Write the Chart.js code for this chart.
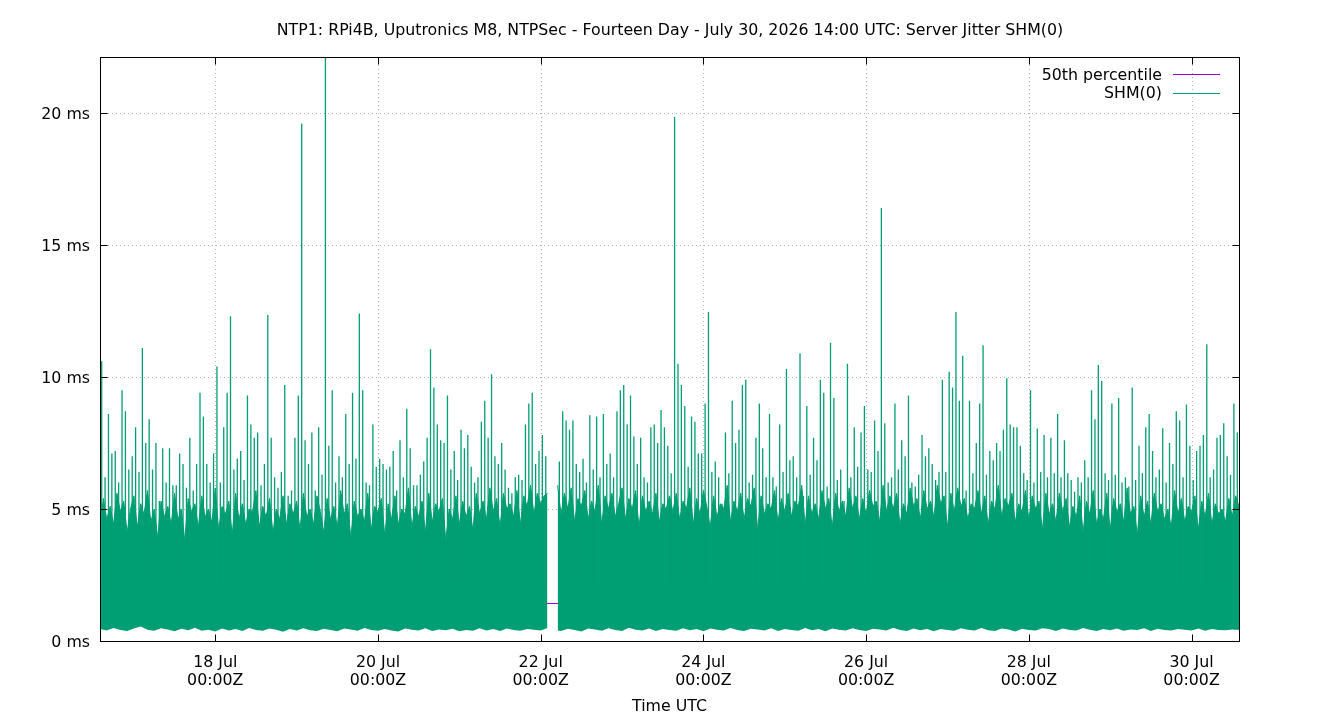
<!DOCTYPE html>
<html>
<head>
<meta charset="utf-8">
<title>Server Jitter SHM(0)</title>
<script src="https://cdn.jsdelivr.net/npm/chart.js@4.4.1/dist/chart.umd.min.js"></script>
<style>
  html, body { margin: 0; padding: 0; background: #fff; }
  canvas { display: block; }
</style>
</head>
<body>
<canvas id="jitterChart" width="1340" height="720"></canvas>
<script>
// hours are counted from 16 Jul 14:00 UTC (fourteen days = 336 h)
const chartTitle = 'NTP1: RPi4B, Uputronics M8, NTPSec - Fourteen Day - July 30, 2026 14:00 UTC: Server Jitter SHM(0)';
const xAxisTitle = 'Time UTC';
const seriesLabels = ['50th percentile', 'SHM(0)'];
const seriesColors = ['#9400d3', '#009e73'];
const percentile50 = 1.42;

const dayTickHours = [34, 82, 130, 178, 226, 274, 322];
const dayTickLabels = ['18 Jul', '20 Jul', '22 Jul', '24 Jul', '26 Jul', '28 Jul', '30 Jul'];
const dayTickTime = '00:00Z';
const yTickValues = [0, 5, 10, 15, 20];

// tallest jitter sample in each hour (ms), null = no data
const spikeValues = [
  10.6, 6.2, 8.6, 7.1, 7.2, 6.0, 9.5, 8.7, 6.5, 7.0,
  8.1, 6.4, 11.1, 7.5, 8.4, 6.5, 7.5, 5.3, 7.3, 6.0,
  7.3, 5.9, 5.9, 7.1, 6.7, 5.8, 7.7, 5.7, 6.7, 9.4,
  8.5, 6.7, 6.0, 7.1, 10.4, 6.0, 8.1, 9.4, 12.3, 6.5,
  6.9, 7.2, 6.1, 9.3, 8.2, 7.7, 7.9, 5.9, 6.7, 12.35,
  7.7, 6.2, 5.8, 6.4, 9.7, 5.5, 5.7, 7.7, 9.3, 19.6,
  7.6, 6.7, 7.9, 5.7, 8.1, 6.3, 22.5, 7.4, 9.5, 6.0,
  7.0, 6.2, 8.6, 6.7, 9.4, 6.9, 12.4, 9.5, 6.0, 5.9,
  8.2, 6.6, 6.9, 6.7, 6.5, 6.6, 7.2, 5.7, 7.6, 6.2,
  8.8, 7.3, 5.9, 5.9, 6.3, 6.8, 7.7, 11.05, 9.6, 8.2,
  7.6, 7.5, 9.3, 6.5, 7.2, 6.1, 8.0, 7.3, 7.8, 6.6,
  6.0, 6.2, 8.3, 9.1, 7.7, 10.1, 7.0, 6.7, 7.5, 6.5,
  5.8, 5.6, 6.2, 6.3, 6.1, 8.2, 9.0, 9.4, 6.7, 7.2,
  7.8, 7.0, null, null, null, 6.8, 8.7, 8.35, 8.0, 8.35,
  6.7, 6.4, 6.9, 6.0, 8.55, 6.5, 8.5, 6.2, 8.6, 6.7,
  7.1, 6.2, 8.7, 9.5, 9.7, 8.2, 9.3, 7.75, 6.7, 7.7,
  6.2, 6.0, 8.1, 8.2, 7.5, 8.75, 8.1, 7.4, 6.35, 19.85,
  10.5, 9.7, 8.9, 6.6, 8.5, 8.3, 7.1, 7.1, 9.0, 12.46,
  6.4, 6.8, 6.2, 5.2, 7.9, 6.35, 9.1, 7.5, 8.0, 9.7,
  9.9, 6.0, 6.3, 7.7, 9.0, 7.3, 6.2, 8.6, 6.2, 5.85,
  8.2, 6.4, 10.3, 6.85, 7.0, 6.2, 10.9, 5.5, 8.9, 6.3,
  7.7, 6.85, 9.9, 9.4, 5.85, 11.3, 9.2, 6.1, 6.5, 5.3,
  10.5, 6.2, 8.1, 6.6, 7.9, 8.9, 6.5, 6.4, 8.35, 7.2,
  16.4, 8.25, 6.0, 6.2, 9.0, 6.5, 7.6, 7.0, 9.3, 6.0,
  5.85, 6.3, 7.8, 7.0, 7.3, 6.7, 6.1, 6.4, 9.9, 6.4,
  10.2, 9.6, 12.46, 9.1, 10.8, 5.7, 9.1, 6.35, 7.5, 9.0,
  11.2, 6.3, 7.2, 6.85, 7.5, 7.2, 8.0, 9.95, 8.2, 8.1,
  8.1, 7.4, 6.35, 6.1, 9.5, 6.0, 8.05, 6.4, 7.8, 6.2,
  7.7, 6.35, 8.6, 6.2, 7.6, 6.35, 6.1, 5.65, 6.2, 6.0,
  6.85, 6.2, 9.5, 8.4, 10.45, 9.86, 6.35, 6.1, 9.0, 6.3,
  9.2, 6.0, 6.2, 5.85, 9.6, 6.1, 7.4, 6.35, 8.1, 8.6,
  7.2, 6.2, 6.5, 8.06, 6.0, 7.5, 6.7, 8.7, 8.35, 6.2,
  8.96, 7.4, 6.1, 7.2, 7.4, 7.8, 11.24, 6.2, 6.5, 7.7,
  7.8, 8.25, 7.0, 6.3, 9.0, 7.9
];

// top of the dense band of samples, on the hour (ms)
const bandTop = [
  4.2, 5.4, 4.6, 5.1, 4.4, 5.6, 4.9, 5.3, 4.1, 5.0,
  5.5, 4.3, 5.2, 4.8, 5.7, 4.5, 5.0, 3.9, 5.3, 4.7,
  5.1, 4.4, 5.6, 4.6, 5.0, 3.8, 5.4, 4.9, 5.2, 4.3,
  5.5, 4.7, 5.0, 4.5, 5.8, 4.2, 5.1, 4.8, 5.3, 4.0,
  5.6, 4.6, 5.2, 4.4, 5.0, 4.9, 5.7, 4.3, 5.1, 4.7,
  5.4, 4.1, 5.0, 4.6, 5.5, 4.4, 5.2,
  4.8, 5.3, 4.2, 5.6, 4.7, 5.0, 4.4, 5.5, 4.9, 4.1,
  5.4, 4.6, 5.1, 4.3, 5.7, 4.8, 5.2, 3.9, 5.3, 4.7,
  5.0, 4.5, 5.6, 4.2, 5.1, 4.9, 5.4, 4.0, 5.2, 4.6,
  5.5, 4.4, 5.0, 4.8, 5.8, 4.3, 5.1, 4.7, 5.3, 4.1,
  5.6, 4.5, 5.2, 4.9, 5.4, 3.8, 5.0, 4.6, 5.5, 4.4,
  5.3, 4.7, 5.1, 4.2, 5.6, 4.8,
  5.3, 4.6, 5.8, 4.9, 5.4, 4.3, 5.6, 5.0, 5.2, 4.7,
  5.7, 4.4, 5.5, 5.1, 5.9, 4.8, 5.6, 5.2, 5.5, 5.6,
  null, null,
  5.9, 4.8, 5.6, 5.0, 5.8, 4.5, 5.4, 5.1, 5.7, 4.6,
  5.3, 4.9, 5.9, 4.4, 5.5, 5.0, 5.6, 4.7, 5.2, 5.8,
  4.6, 5.4, 5.0, 5.7, 4.3, 5.5, 4.9, 5.3, 4.8, 5.6,
  4.5, 5.2, 5.0, 5.5,
  4.9, 5.6, 4.6, 5.3, 5.0, 5.8, 4.4, 5.4, 4.8, 5.7,
  5.1, 4.3, 5.5, 4.7, 5.2, 5.0, 5.9, 4.5, 5.3, 4.9,
  5.6, 4.6, 5.4, 5.1, 5.8, 4.2, 5.5, 4.8, 5.2, 5.0,
  5.7, 4.5, 5.4, 4.9, 5.6, 4.7, 5.3, 5.1, 5.9, 4.4,
  5.5, 4.8, 5.2, 4.6, 5.7, 5.0, 5.4, 4.3, 5.6, 4.9,
  5.3, 4.7, 5.8, 5.0, 5.5, 4.6,
  5.4, 4.8, 5.7, 5.1, 5.3, 4.5, 5.9, 4.9, 5.5, 5.0,
  5.6, 4.4, 5.2, 4.8, 5.8, 5.1, 5.4, 4.6, 5.7, 5.0,
  5.3, 4.7, 5.9, 5.2, 5.5, 4.3, 5.6, 4.9, 5.8, 5.1,
  5.4, 4.6, 5.2, 5.0, 5.7, 4.8, 5.5, 4.4, 5.3, 5.0,
  5.9, 4.7, 5.4, 5.1, 5.6, 4.5, 5.2, 4.9, 5.7, 4.6,
  5.5, 5.0, 5.3, 4.2, 5.6, 4.8,
  5.2, 4.5, 5.6, 4.9, 5.4, 4.3, 5.1, 4.7, 5.5, 4.1,
  5.3, 4.8, 5.7, 4.4, 5.0, 4.6, 5.6, 4.2, 5.4, 4.9,
  5.2, 4.5, 5.8, 4.8, 5.1, 4.0, 5.5, 4.7, 5.3, 4.4,
  5.6, 4.9, 5.2, 4.6, 5.0, 4.3, 5.7, 4.8, 5.4, 4.5,
  5.1, 4.9, 5.5, 4.2, 5.3, 4.7, 5.6, 4.4, 5.2, 4.8,
  5.0, 4.5, 5.4, 4.7, 5.5, 5.1
];

// lowest samples, every two hours (ms)
const floorLow = [
  0.45, 0.40, 0.49, 0.42, 0.38, 0.47, 0.55, 0.43, 0.39, 0.48,
  0.44, 0.37, 0.46, 0.41, 0.50, 0.39, 0.43, 0.36, 0.47, 0.40,
  0.45, 0.38, 0.49, 0.42, 0.39, 0.47, 0.43, 0.35, 0.45, 0.40,
  0.48, 0.41, 0.38, 0.46, 0.42, 0.37, 0.47, 0.44, 0.39, 0.49,
  0.42, 0.39, 0.45, 0.40, 0.36, 0.47, 0.43, 0.40, 0.48, 0.38,
  0.44, 0.41, 0.46, 0.37, 0.42, 0.39, 0.48, 0.40, 0.45, 0.38,
  0.47, 0.42, 0.39, 0.45, 0.43, 0.40, 0.49, 0.41, 0.38, 0.46,
  0.42, 0.36, 0.47, 0.44, 0.39, 0.48, 0.42, 0.38, 0.50, 0.43,
  0.40, 0.47, 0.38, 0.45, 0.42, 0.39, 0.48, 0.41, 0.45, 0.37,
  0.47, 0.43, 0.40, 0.49, 0.42, 0.38, 0.46, 0.44, 0.40, 0.48,
  0.38, 0.45, 0.42, 0.39, 0.49, 0.41, 0.45, 0.37, 0.47, 0.43,
  0.40, 0.48, 0.42, 0.38, 0.46, 0.44, 0.40, 0.50, 0.42, 0.38,
  0.47, 0.41, 0.45, 0.37, 0.45, 0.42, 0.39, 0.48, 0.43, 0.40,
  0.49, 0.41, 0.38, 0.47, 0.44, 0.36, 0.46, 0.42, 0.40, 0.48,
  0.45, 0.38, 0.47, 0.42, 0.40, 0.49, 0.43, 0.38, 0.45, 0.41,
  0.47, 0.39, 0.44, 0.42, 0.48, 0.38, 0.46, 0.42, 0.40, 0.45,
  0.43, 0.40, 0.47, 0.39, 0.45, 0.42, 0.41, 0.44, 0.42
];

const spikeBase = 2;
const totalHours = 336;
const fontFamily = '"DejaVu Sans", sans-serif';
const fontSize = 15.8;

Chart.defaults.font.family = fontFamily;
Chart.defaults.font.size = fontSize;
Chart.defaults.color = '#000';

// build the point lists from the arrays above
const bandPoints = bandTop.map((v, i) => ({ x: i, y: v }));
const floorPoints = floorLow.map((v, i) => ({ x: i * 2, y: v }));
const spikePoints = [];
spikeValues.forEach((v, i) => {
  const t = i + 0.5;
  if (v === null) {
    spikePoints.push({ x: t, y: null });
    return;
  }
  spikePoints.push({ x: t, y: spikeBase }, { x: t, y: v }, { x: t, y: spikeBase });
});

const framePlugin = {
  id: 'frame',
  beforeDatasetsDraw(chart) {
    const { ctx, chartArea: a, scales: { x, y } } = chart;
    ctx.save();
    ctx.strokeStyle = '#b4b4b4';
    ctx.lineWidth = 1;
    ctx.setLineDash([1, 3]);
    ctx.beginPath();
    yTickValues.forEach(v => {
      if (v <= 0) return;
      const p = Math.round(y.getPixelForValue(v)) + 0.5;
      ctx.moveTo(a.left, p);
      ctx.lineTo(a.right, p);
    });
    dayTickHours.forEach(h => {
      const p = Math.round(x.getPixelForValue(h)) + 0.5;
      ctx.moveTo(p, a.top);
      ctx.lineTo(p, a.bottom);
    });
    ctx.stroke();
    ctx.restore();
  },
  afterDraw(chart) {
    const { ctx, chartArea: a, scales: { x, y } } = chart;
    const L = Math.round(a.left) + 0.5, R = Math.round(a.right) + 0.5;
    const T = Math.round(a.top) + 0.5, B = Math.round(a.bottom) + 0.5;
    const tick = 7;
    ctx.save();
    ctx.strokeStyle = '#000';
    ctx.lineWidth = 1;
    ctx.strokeRect(L, T, R - L, B - T);
    ctx.beginPath();
    yTickValues.forEach(v => {
      const p = Math.round(y.getPixelForValue(v)) + 0.5;
      ctx.moveTo(L, p); ctx.lineTo(L + tick, p);
      ctx.moveTo(R, p); ctx.lineTo(R - tick, p);
    });
    dayTickHours.forEach(h => {
      const p = Math.round(x.getPixelForValue(h)) + 0.5;
      ctx.moveTo(p, B); ctx.lineTo(p, B - tick);
      ctx.moveTo(p, T); ctx.lineTo(p, T + tick);
    });
    ctx.stroke();

    ctx.fillStyle = '#000';
    ctx.font = fontSize + 'px ' + fontFamily;
    ctx.textBaseline = 'middle';
    ctx.textAlign = 'center';
    ctx.fillText(chartTitle, 670, 31);
    ctx.fillText(xAxisTitle, (a.left + a.right) / 2, 707);

    // key, top right inside the plot
    ctx.textAlign = 'right';
    seriesLabels.forEach((label, i) => {
      const ly = 75.5 + i * 18.5;
      ctx.fillText(label, 1162, ly);
      ctx.strokeStyle = seriesColors[i];
      ctx.beginPath();
      ctx.moveTo(1173, Math.round(ly - 1.5) + 0.5);
      ctx.lineTo(1220, Math.round(ly - 1.5) + 0.5);
      ctx.stroke();
    });
    ctx.restore();
  }
};

new Chart(document.getElementById('jitterChart'), {
  type: 'line',
  data: {
    datasets: [
      {
        label: seriesLabels[0],
        data: [{ x: 0, y: percentile50 }, { x: totalHours, y: percentile50 }],
        borderColor: seriesColors[0],
        borderWidth: 1,
        order: 4
      },
      {
        label: seriesLabels[1],
        data: bandPoints,
        borderColor: seriesColors[1],
        backgroundColor: seriesColors[1],
        borderWidth: 1,
        fill: 'origin',
        spanGaps: false,
        order: 3
      },
      {
        label: seriesLabels[1] + ' peaks',
        data: spikePoints,
        borderColor: seriesColors[1],
        borderWidth: 1.3,
        spanGaps: false,
        order: 2
      },
      {
        label: 'floor',
        data: floorPoints,
        borderColor: '#ffffff',
        backgroundColor: '#ffffff',
        borderWidth: 0,
        fill: 'origin',
        order: 1
      }
    ]
  },
  options: {
    responsive: false,
    animation: false,
    events: [],
    layout: { padding: { top: 57, right: 101, left: 0, bottom: 0 } },
    elements: { point: { radius: 0 }, line: { tension: 0 } },
    plugins: {
      legend: { display: false },
      title: { display: false },
      tooltip: { enabled: false }
    },
    scales: {
      x: {
        type: 'linear',
        min: 0,
        max: totalHours,
        grid: { display: false, drawTicks: false },
        border: { display: false },
        afterBuildTicks: s => { s.ticks = dayTickHours.map(v => ({ value: v })); },
        afterFit: s => { s.height = 79; },
        ticks: {
          padding: 13,
          maxRotation: 0,
          autoSkip: false,
          font: { size: fontSize, lineHeight: '18px' },
          callback: v => [dayTickLabels[dayTickHours.indexOf(v)], dayTickTime]
        }
      },
      y: {
        min: 0,
        max: 22.12,
        grid: { display: false, drawTicks: false },
        border: { display: false },
        afterBuildTicks: s => { s.ticks = yTickValues.map(v => ({ value: v })); },
        afterFit: s => { s.width = 100; },
        ticks: {
          padding: 10,
          labelOffset: 2,
          callback: v => v + ' ms'
        }
      }
    }
  },
  plugins: [framePlugin]
});
</script>
</body>
</html>
